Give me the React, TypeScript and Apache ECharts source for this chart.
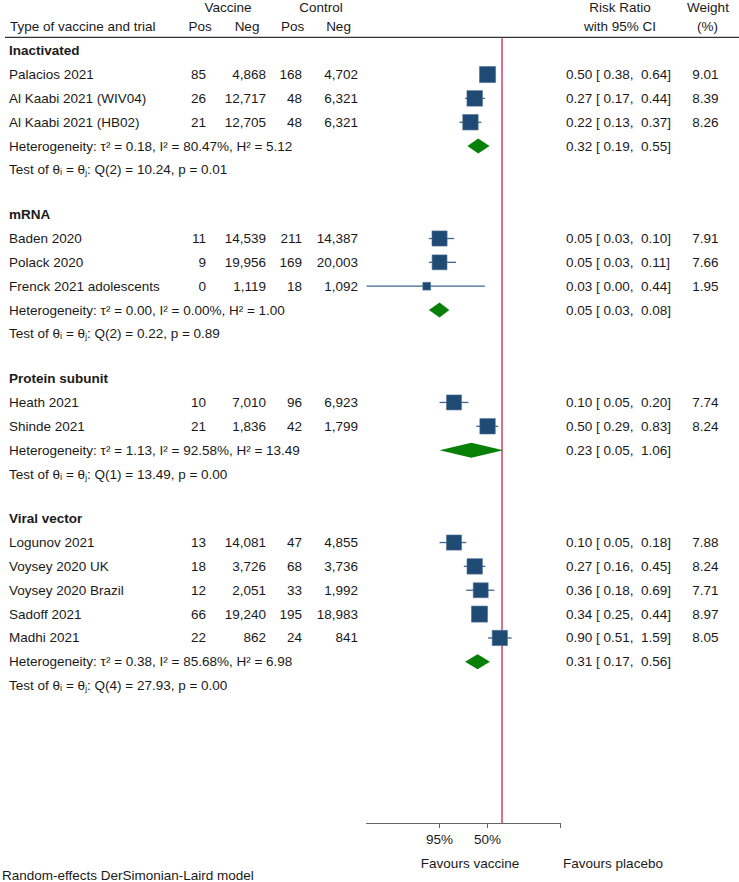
import React, { useEffect, useRef } from "react";
import * as echarts from "echarts";

// ---------------- data ----------------
const groups = ["Inactivated", "mRNA", "Protein subunit", "Viral vector"];
const studies = [
  "Palacios 2021",
  "Al Kaabi 2021 (WIV04)",
  "Al Kaabi 2021 (HB02)",
  "Baden 2020",
  "Polack 2020",
  "Frenck 2021 adolescents",
  "Heath 2021",
  "Shinde 2021",
  "Logunov 2021",
  "Voysey 2020 UK",
  "Voysey 2020 Brazil",
  "Sadoff 2021",
  "Madhi 2021",
];
const studyGroup = [0, 0, 0, 1, 1, 1, 2, 2, 3, 3, 3, 3, 3];
const vaccinePos = [85, 26, 21, 11, 9, 0, 10, 21, 13, 18, 12, 66, 22];
const vaccineNeg = [4868, 12717, 12705, 14539, 19956, 1119, 7010, 1836, 14081, 3726, 2051, 19240, 862];
const controlPos = [168, 48, 48, 211, 169, 18, 96, 42, 47, 68, 33, 195, 24];
const controlNeg = [4702, 6321, 6321, 14387, 20003, 1092, 6923, 1799, 4855, 3736, 1992, 18983, 841];
const riskRatio = [0.5, 0.27, 0.22, 0.05, 0.05, 0.027, 0.1, 0.5, 0.1, 0.27, 0.36, 0.34, 0.9];
const ciLower = [0.38, 0.17, 0.13, 0.03, 0.03, 0.0, 0.05, 0.29, 0.05, 0.16, 0.18, 0.25, 0.51];
const ciUpper = [0.64, 0.44, 0.37, 0.1, 0.11, 0.44, 0.2, 0.83, 0.18, 0.45, 0.69, 0.44, 1.59];
const weights = [9.01, 8.39, 8.26, 7.91, 7.66, 1.95, 7.74, 8.24, 7.88, 8.24, 7.71, 8.97, 8.05];

const pooledRR = [0.32, 0.05, 0.23, 0.31];
const pooledLower = [0.19, 0.03, 0.05, 0.17];
const pooledUpper = [0.55, 0.08, 1.06, 0.56];
const tau2 = [0.18, 0.0, 1.13, 0.38];
const iSquared = [80.47, 0.0, 92.58, 85.68];
const hSquared = [5.12, 1.0, 13.49, 6.98];
const qDf = [2, 2, 1, 4];
const qStat = [10.24, 0.22, 13.49, 27.93];
const qP = [0.01, 0.89, 0.0, 0.0];

const tickValues = [0.05, 0.5];
const tickLabels = ["95%", "50%"];
const nullValue = 1;

// ---------------- layout / style ----------------
const W = 739;
const H = 882;
const FONT = '"Liberation Sans", Arial, sans-serif';
const FS = 13.5;
const TEXT = "#1a1a1a";
const NAVY = "#1f4a74";
const CI_COLOR = "#3d6690";
const GREEN = "#068006";
const RED = "#d9567c";
const AXIS = "#666666";

const ROW = 23.85;
const GAP = 44.7;
const TOP = 50.7;
const X_MIN = -2.823;
const X_MAX = 1.208;
const AXIS_Y = 823;
const RULE_Y = 37.3;

const fmtInt = (n: number) => n.toLocaleString("en-US");
const lg = (v: number) => Math.max(X_MIN, Math.log10(v));

function txt(x: number, y: number, text: string, align: string, bold = false, size = FS) {
  return {
    type: "text",
    x,
    y,
    silent: true,
    style: {
      text,
      fill: TEXT,
      font: `${bold ? "bold " : ""}${size}px ${FONT}`,
      align,
      textAlign: align,
      verticalAlign: "middle",
      textVerticalAlign: "middle",
    },
  };
}

export default function App() {
  const ref = useRef<HTMLDivElement>(null);

  useEffect(() => {
    if (!ref.current) return;
    const chart = echarts.init(ref.current, undefined, { renderer: "svg" });

    const graphics: any[] = [];
    const studyData: any[] = [];
    const pooledData: any[] = [];

    // header
    graphics.push(txt(228, 7, "Vaccine", "center"));
    graphics.push(txt(321, 7, "Control", "center"));
    graphics.push(txt(620, 7, "Risk Ratio", "center"));
    graphics.push(txt(708, 7, "Weight", "center"));
    graphics.push(txt(10, 26.5, "Type of vaccine and trial", "left"));
    graphics.push(txt(200, 26.5, "Pos", "center"));
    graphics.push(txt(247, 26.5, "Neg", "center"));
    graphics.push(txt(292.5, 26.5, "Pos", "center"));
    graphics.push(txt(338.5, 26.5, "Neg", "center"));
    graphics.push(txt(620, 26.5, "with 95% CI", "center"));
    graphics.push(txt(707.5, 26.5, "(%)", "center"));
    graphics.push({
      type: "line",
      silent: true,
      shape: { x1: 5, y1: RULE_Y, x2: W, y2: RULE_Y },
      style: { stroke: "#000", lineWidth: 1 },
    });

    let y = TOP;
    groups.forEach((g, gi) => {
      graphics.push(txt(9, y, g, "left", true));
      y += ROW;
      studies.forEach((s, i) => {
        if (studyGroup[i] !== gi) return;
        graphics.push(txt(9, y, s, "left"));
        graphics.push(txt(206, y, fmtInt(vaccinePos[i]), "right"));
        graphics.push(txt(266, y, fmtInt(vaccineNeg[i]), "right"));
        graphics.push(txt(302, y, fmtInt(controlPos[i]), "right"));
        graphics.push(txt(358, y, fmtInt(controlNeg[i]), "right"));
        graphics.push(
          txt(566, y, `${riskRatio[i].toFixed(2)} [ ${ciLower[i].toFixed(2)},  ${ciUpper[i].toFixed(2)}]`, "left")
        );
        graphics.push(txt(718.5, y, weights[i].toFixed(2), "right"));
        studyData.push([lg(riskRatio[i]), lg(ciLower[i]), lg(ciUpper[i]), y, 5.2 * Math.sqrt(weights[i]) + 0.5]);
        y += ROW;
      });
      graphics.push(
        txt(
          9,
          y,
          `Heterogeneity: τ² = ${tau2[gi].toFixed(2)}, I² = ${iSquared[gi].toFixed(2)}%, H² = ${hSquared[gi].toFixed(2)}`,
          "left"
        )
      );
      graphics.push(
        txt(566, y, `${pooledRR[gi].toFixed(2)} [ ${pooledLower[gi].toFixed(2)},  ${pooledUpper[gi].toFixed(2)}]`, "left")
      );
      pooledData.push([lg(pooledRR[gi]), lg(pooledLower[gi]), lg(pooledUpper[gi]), y]);
      y += ROW;
      graphics.push(
        txt(9, y, `Test of θᵢ = θⱼ: Q(${qDf[gi]}) = ${qStat[gi].toFixed(2)}, p = ${qP[gi].toFixed(2)}`, "left")
      );
      y += GAP;
    });

    graphics.push(txt(470, 863, "Favours vaccine", "center"));
    graphics.push(txt(613, 863, "Favours placebo", "center"));
    graphics.push(txt(2, 875.5, "Random-effects DerSimonian-Laird model", "left"));

    const tickLogs = tickValues.map((v) => Math.log10(v));

    chart.setOption({
      animation: false,
      grid: { left: 366.5, width: 560 - 366.5, top: 0, height: AXIS_Y },
      xAxis: {
        type: "value",
        position: "bottom",
        min: X_MIN,
        max: X_MAX,
        splitLine: { show: false },
        axisLine: { show: true, onZero: false, lineStyle: { color: AXIS, width: 1 } },
        axisTick: {
          show: true,
          length: 5,
          customValues: [...tickLogs, X_MAX],
          lineStyle: { color: AXIS, width: 1 },
        },
        axisLabel: {
          show: true,
          customValues: tickLogs,
          margin: 9,
          color: TEXT,
          fontSize: FS,
          fontFamily: FONT,
          formatter: (v: number) => {
            const k = tickLogs.findIndex((t) => Math.abs(t - v) < 1e-6);
            return k >= 0 ? tickLabels[k] : "";
          },
        },
      },
      yAxis: { type: "value", min: 0, max: AXIS_Y, inverse: true, show: false },
      series: [
        {
          type: "line",
          silent: true,
          symbol: "none",
          data: [
            [Math.log10(nullValue), RULE_Y + 1],
            [Math.log10(nullValue), AXIS_Y],
          ],
          lineStyle: { color: RED, width: 1.7 },
          z: 1,
        },
        {
          type: "custom",
          silent: true,
          clip: false,
          z: 3,
          data: studyData,
          renderItem: (params: any, api: any) => {
            const p = api.coord([api.value(0), api.value(3)]);
            const pl = api.coord([api.value(1), api.value(3)]);
            const ph = api.coord([api.value(2), api.value(3)]);
            const s = api.value(4);
            return {
              type: "group",
              children: [
                {
                  type: "line",
                  shape: { x1: pl[0], y1: p[1], x2: ph[0], y2: p[1] },
                  style: { stroke: CI_COLOR, lineWidth: 1.3 },
                },
                {
                  type: "rect",
                  shape: { x: p[0] - s / 2, y: p[1] - s / 2, width: s, height: s },
                  style: { fill: NAVY, stroke: "#4d7096", lineWidth: 0.6 },
                },
              ],
            };
          },
        },
        {
          type: "custom",
          silent: true,
          clip: false,
          z: 3,
          data: pooledData,
          renderItem: (params: any, api: any) => {
            const p = api.coord([api.value(0), api.value(3)]);
            const pl = api.coord([api.value(1), api.value(3)]);
            const ph = api.coord([api.value(2), api.value(3)]);
            const h = 7.5;
            return {
              type: "polygon",
              shape: {
                points: [
                  [pl[0], p[1]],
                  [p[0], p[1] - h],
                  [ph[0], p[1]],
                  [p[0], p[1] + h],
                ],
              },
              style: { fill: GREEN },
            };
          },
        },
      ],
      graphic: { elements: graphics },
    });

    return () => chart.dispose();
  }, []);

  return (
    <div
      ref={ref}
      style={{ position: "absolute", left: 0, top: 0, width: W, height: H, background: "#fff" }}
    />
  );
}
